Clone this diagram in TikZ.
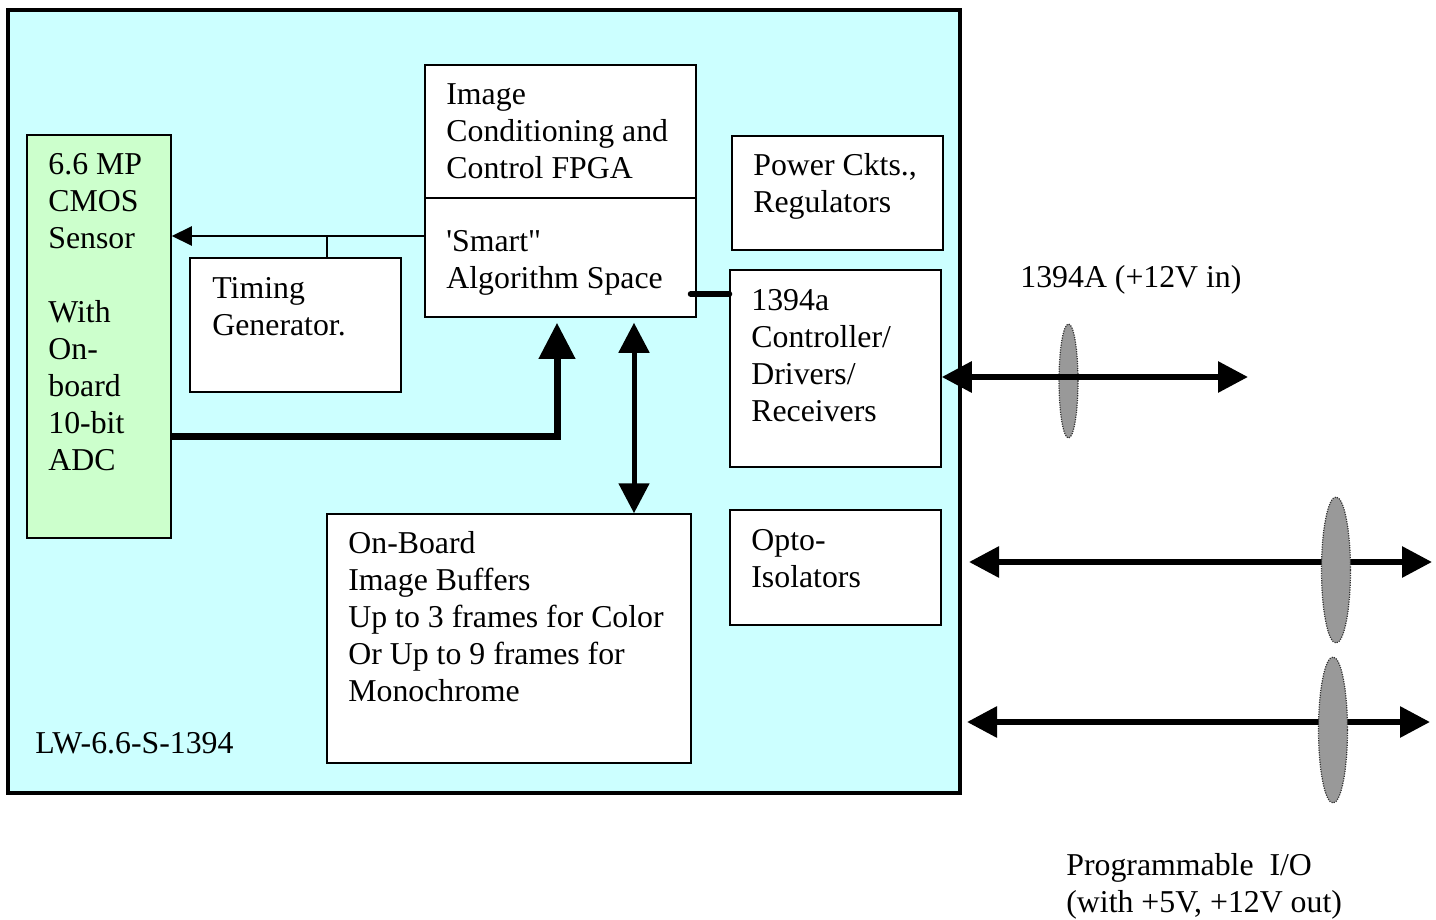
\documentclass[tikz,border=0pt]{standalone}
\usepackage{fontspec}
\setmainfont{Liberation Serif}
\usetikzlibrary{arrows.meta,shapes.geometric,fit}
\definecolor{boardfill}{HTML}{CCFFFF}
\definecolor{sensorfill}{HTML}{CCFFCC}
\definecolor{lensfill}{HTML}{999999}
\tikzset{
  board/.style={draw=black, line width=2pt, fill=boardfill, inner sep=0pt},
  block/.style={draw=black, line width=0.75pt, fill=white, inner sep=0pt},
  sensorbox/.style={block, fill=sensorfill},
  label/.style={anchor=north west, inner sep=0pt, align=left,
    font=\fontsize{15.9}{18.5}\selectfont},
  thinarrow/.style={draw=black, line width=1pt,
    -{Triangle[length=10pt,width=9.5pt]}},
  feedarrow/.style={draw=black, line width=3.5pt,
    -{Triangle[length=18pt,width=17.5pt]}},
  busarrow/.style={draw=black, line width=2.5pt,
    {Triangle[length=15pt,width=15pt]}-{Triangle[length=15pt,width=15pt]}},
  linkarrow/.style={draw=black, line width=3pt,
    {Triangle[length=15pt,width=15pt]}-{Triangle[length=15pt,width=15pt]}},
  link/.style={draw=black, line width=3pt, line cap=round},
  lens/.style={ellipse, fill=lensfill, draw=black!80, line width=0.6pt,
    dash pattern=on 0.6pt off 0.6pt, inner sep=0pt},
}
\begin{document}
\begin{tikzpicture}[x=0.5pt, y=-0.5pt]
\useasboundingbox (0,0) rectangle (1436,920);

% camera board and its blocks
\node[board, fit={(8,10)(960,793)}] (main) {};
\node[sensorbox, fit={(27,135)(171,538)}] (sensor) {};
\node[block, fit={(425,65)(696,317)}] (fpga) {};
\node[block, fit={(190,258)(401,392)}] (timing) {};
\node[block, fit={(732,136)(943,250)}] (power) {};
\node[block, fit={(730,270)(941,467)}] (ctrl) {};
\node[block, fit={(730,510)(941,625)}] (opto) {};
\node[block, fit={(327,514)(691,763)}] (buffers) {};
\draw[line width=0.75pt] (fpga.west |- 0,198) -- (fpga.east |- 0,198);

% block texts
\node[label] (tfpga) at (446,78) {\strut Image\\Conditioning and\\Control FPGA};
\node[label] (tsmart) at (446,225) {\strut\textquotesingle Smart\textquotedbl\\Algorithm Space};
\node[label] (tsensor) at (48,148) {\strut 6.6 MP\\CMOS\\Sensor\\[18.5pt]With\\On-\\board\\10-bit\\ADC};
\node[label] (ttiming) at (212,272) {\strut Timing\\Generator.};
\node[label] (tpower) at (753,149) {\strut Power Ckts.,\\Regulators};
\node[label] (tctrl) at (751,284) {\strut 1394a\\Controller/\\Drivers/\\Receivers};
\node[label] (topto) at (751,524) {\strut Opto-\\Isolators};
\node[label] (tbuf) at (348,527) {\strut On-Board\\Image Buffers\\Up to 3 frames for Color\\Or Up to 9 frames for\\Monochrome};
\node[label] (tmodel) at (35,727) {\strut LW-6.6-S-1394};

% internal connections
\coordinate (tap) at (327,236);
\draw[thinarrow] (fpga.west |- 0,236) -- (sensor.east |- 0,236);
\draw[line width=1pt] (tap) -- (timing.north -| tap);
\draw[feedarrow] (sensor.east |- 0,436) -| ([yshift=-2.5pt]fpga.south -| 557,0);
\draw[busarrow, shorten <=2.5pt] (fpga.south -| 634,0) -- (buffers.north -| 634,0);
\draw[link] ([xshift=-3pt]fpga.east |- 0,294) -- (ctrl.west |- 0,294);

% external ports
\coordinate (fwend) at (1248,377);
\draw[linkarrow] (ctrl.east |- fwend) -- (fwend);
\node[lens, minimum width=9.5pt, minimum height=57pt] (lensfw) at (1068.5,381) {};
\draw[line width=3pt] (ctrl.east |- fwend) ++(12,0) -- ([xshift=-6pt]fwend);

\coordinate (ioaL) at (969,562);
\coordinate (ioaR) at (1432,562);
\draw[linkarrow] (ioaL) -- (ioaR);
\node[lens, minimum width=14.5pt, minimum height=73pt] (lensa) at (1336,570) {};

\coordinate (iobL) at (967,722);
\coordinate (iobR) at (1430,722);
\draw[linkarrow] (iobL) -- (iobR);
\node[lens, minimum width=14.5pt, minimum height=73pt] (lensb) at (1333,730) {};

% port captions
\node[label] (tfw) at (1020,261) {\strut 1394A (+12V in)};
\node[label] (tio) at (1066,849) {\strut Programmable~~I/O\\(with +5V, +12V out)};
\end{tikzpicture}
\end{document}
